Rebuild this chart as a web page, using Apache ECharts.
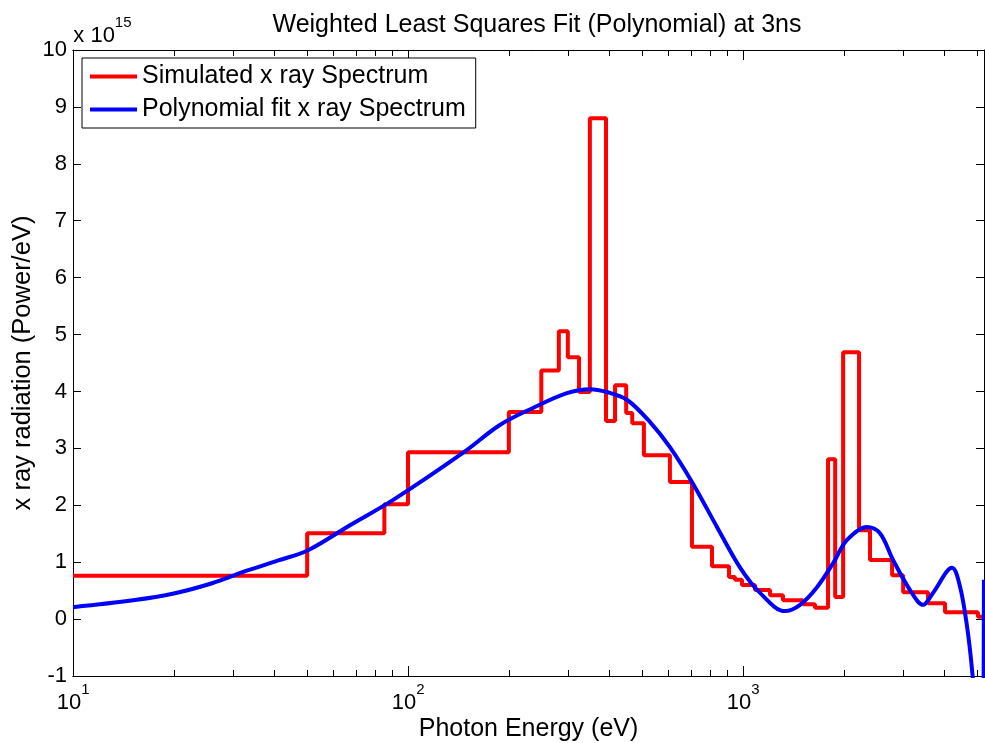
<!DOCTYPE html>
<html>
<head>
<meta charset="utf-8">
<script src="https://cdn.jsdelivr.net/npm/echarts@6/dist/echarts.min.js"></script>
<style>
html,body{margin:0;padding:0;background:#fff;}
#chart{width:985px;height:743px;}
</style>
</head>
<body>
<div id="chart"></div>
<script>
// Simulated spectrum: step edges (eV) and the level that starts at each edge (x1e15)
const simulatedEdges = [10, 50, 85, 100, 200, 250, 282, 300, 324, 349, 390, 415, 448, 467, 506, 605, 704, 808, 908, 946, 993, 1086, 1204, 1316, 1511, 1640, 1794, 1884, 1990, 2220, 2394, 2786, 3006, 3567, 4009, 5025, 5240];
const simulatedLevels = [0.76, 1.51, 2.02, 2.93, 3.64, 4.37, 5.06, 4.6, 3.99, 8.8, 3.48, 4.11, 3.62, 3.44, 2.88, 2.41, 1.27, 0.93, 0.74, 0.69, 0.6, 0.51, 0.42, 0.33, 0.26, 0.2, 2.81, 0.39, 4.69, 1.56, 1.04, 0.77, 0.47, 0.28, 0.12, 0.04];

// Polynomial fit samples
const fitEnergy = [10, 15.1, 20, 26, 33, 41, 50.3, 67.1, 90.1, 145.8, 188, 236, 298, 349, 392, 451, 528, 605, 704, 836, 979, 1124, 1335, 1480, 1663, 1856, 2044, 2344, 2563, 2804, 3152, 3447, 3690, 4206, 4444, 4666, 4828, 4963, 5150, 5238];
const fitValues = [0.21, 0.33, 0.45, 0.63, 0.85, 1.03, 1.21, 1.65, 2.09, 2.92, 3.41, 3.71, 3.97, 4.04, 3.99, 3.85, 3.46, 3.02, 2.41, 1.62, 0.91, 0.46, 0.14, 0.25, 0.56, 0.98, 1.39, 1.62, 1.51, 1.04, 0.51, 0.25, 0.46, 0.9, 0.57, -0.14, -0.9, -1.8, -5, 0.69];

// Axis ticks
const xMajorTicks = [10, 100, 1000];
const xMinorTicks = [20, 30, 40, 50, 60, 70, 80, 90, 200, 300, 400, 500, 600, 700, 800, 900, 2000, 3000, 4000, 5000];

const seriesNames = ['Simulated x ray Spectrum', 'Polynomial fit x ray Spectrum'];

const simulatedData = simulatedEdges.map((e, i) => [e, simulatedLevels[Math.min(i, simulatedLevels.length - 1)]]);
const fitData = fitEnergy.map((e, i) => [e, fitValues[i]]);

const FONT = '"Liberation Sans", Arial, Helvetica, sans-serif';
const X_MIN = 10, X_MAX = 5240;

function xAxisBase(extra) {
  return Object.assign({
    type: 'log', logBase: 10, min: X_MIN, max: X_MAX, gridIndex: 0,
    axisLine: { show: true, onZero: false, lineStyle: { color: '#000', width: 1 } },
    splitLine: { show: false },
    axisLabel: { show: false },
    axisTick: { show: true, inside: true, length: 10, lineStyle: { color: '#000' } }
  }, extra);
}

const supRich = {
  g: { fontFamily: FONT, fontSize: 1, lineHeight: 32, verticalAlign: 'top' },
  b: { fontFamily: FONT, fontSize: 22, color: '#000', fill: '#000', verticalAlign: 'bottom', lineHeight: 22 },
  s: { fontFamily: FONT, fontSize: 15, color: '#000', fill: '#000', verticalAlign: 'top', lineHeight: 15 }
};

const chart = echarts.init(document.getElementById('chart'), null, { renderer: 'canvas' });
chart.setOption({
  backgroundColor: '#fff',
  animation: false,
  textStyle: { fontFamily: FONT },
  title: {
    text: 'Weighted Least Squares Fit (Polynomial) at 3ns',
    left: 532, top: 8, textAlign: 'center',
    textStyle: { fontFamily: FONT, fontSize: 25, fontWeight: 'normal', color: '#000' }
  },
  graphic: [{
    type: 'text', left: 73, top: 15,
    style: {
      text: '{g| }{b|x 10}{s|15}',
      rich: supRich
    }
  }],
  legend: {
    orient: 'vertical', left: 82, top: 58,
    data: seriesNames,
    icon: 'rect', itemWidth: 47, itemHeight: 4, itemGap: 8,
    padding: [6, 10, 6, 8],
    borderColor: '#000', borderWidth: 1, backgroundColor: '#fff',
    textStyle: { fontFamily: FONT, fontSize: 25, color: '#000', lineHeight: 24 }
  },
  grid: { left: 73, right: 1, top: 50, bottom: 67, containLabel: false, outerBoundsMode: 'none' },
  xAxis: [
    xAxisBase({
      position: 'bottom',
      name: 'Photon Energy (eV)', nameLocation: 'middle', nameGap: 41, nameMoveOverlap: false,
      nameTextStyle: { fontFamily: FONT, fontSize: 25, color: '#000' },
      axisTick: { show: true, inside: true, length: 10, customValues: xMajorTicks, lineStyle: { color: '#000' } },
      axisLabel: {
        show: true, margin: 6, customValues: xMajorTicks,
        formatter: function (v) {
          const p = Math.round(Math.log10(v));
          return '{g| }{b|10}{s|' + p + '}';
        },
        rich: supRich
      }
    }),
    xAxisBase({ position: 'bottom', axisTick: { show: true, inside: true, length: 6, customValues: xMinorTicks, lineStyle: { color: '#000' } } }),
    xAxisBase({ position: 'top', axisTick: { show: true, inside: true, length: 10, customValues: xMajorTicks, lineStyle: { color: '#000' } } }),
    xAxisBase({ position: 'top', axisTick: { show: true, inside: true, length: 6, customValues: xMinorTicks, lineStyle: { color: '#000' } } })
  ],
  yAxis: [
    {
      type: 'value', min: -1, max: 10, interval: 1, position: 'left',
      name: 'x ray radiation (Power/eV)', nameLocation: 'middle', nameGap: 37, nameMoveOverlap: false,
      nameTextStyle: { fontFamily: FONT, fontSize: 25.5, color: '#000' },
      axisLine: { show: true, onZero: false, lineStyle: { color: '#000' } },
      axisTick: { show: true, inside: true, length: 8, lineStyle: { color: '#000' } },
      axisLabel: { show: true, margin: 6, fontFamily: FONT, fontSize: 22, color: '#000' },
      splitLine: { show: false }
    },
    {
      type: 'value', min: -1, max: 10, interval: 1, position: 'right',
      axisLine: { show: true, onZero: false, lineStyle: { color: '#000' } },
      axisTick: { show: true, inside: true, length: 8, lineStyle: { color: '#000' } },
      axisLabel: { show: false },
      splitLine: { show: false }
    }
  ],
  series: [
    {
      name: seriesNames[0], type: 'line', xAxisIndex: 0, yAxisIndex: 0,
      data: simulatedData, step: 'end', showSymbol: false, symbol: 'none',
      lineStyle: { color: '#ff0000', width: 4 }, itemStyle: { color: '#ff0000' }, clip: true, z: 2
    },
    {
      name: seriesNames[1], type: 'line', xAxisIndex: 0, yAxisIndex: 0,
      data: fitData, smooth: 0.35, showSymbol: false, symbol: 'none',
      lineStyle: { color: '#0000ff', width: 4 }, itemStyle: { color: '#0000ff' }, clip: true, z: 3
    }
  ]
});
</script>
</body>
</html>
